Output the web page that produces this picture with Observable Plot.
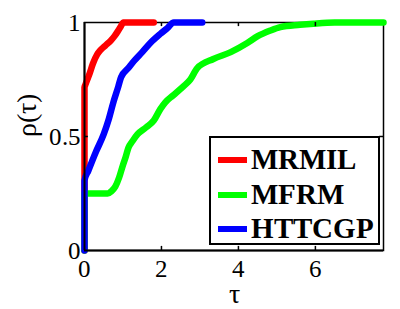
<!DOCTYPE html>
<html>
<head>
<meta charset="utf-8">
<script src="https://cdn.jsdelivr.net/npm/d3@7"></script>
<script src="https://cdn.jsdelivr.net/npm/@observablehq/plot@0.6"></script>
<style>
@font-face { font-family: "ChartSerif"; src: local("Liberation Serif"), local("LiberationSerif"), local("Times New Roman"); font-weight: normal; }
@font-face { font-family: "ChartSerif"; src: local("Liberation Serif Bold"), local("LiberationSerif-Bold"), local("Times New Roman Bold"); font-weight: bold; }
</style>
</head>
<body style="margin:0;padding:0;background:#fff">
<div id="wrap" style="position:relative;width:400px;height:309px"></div>
<script>
// Performance profiles: tau and rho values per method
const seriesNames = ["MRMIL", "MFRM", "HTTCGP"];
const seriesColors = ["#ff0000", "#00ff00", "#0000ff"];

const mrmilTau = [0, 0, 0.03, 0.12, 0.22, 0.33, 0.42, 0.55, 0.68, 0.78, 0.86, 0.95, 1.01, 1.3, 1.5, 1.8];
const mrmilRho = [0, 0.715, 0.73, 0.77, 0.82, 0.86, 0.88, 0.9, 0.92, 0.94, 0.96, 0.985, 1.0, 1.0, 1.0, 1.0];

const mfrmTau = [0, 0, 0.6, 0.7, 0.8, 0.9, 0.99, 1.07, 1.14, 1.25, 1.38, 1.6, 1.8, 1.97, 2.1, 2.3, 2.57, 2.75, 2.93, 3.35, 3.8, 4.23, 4.5, 4.83, 5.09, 5.6, 5.95, 6.5, 7.0, 7.77];
const mfrmRho = [0, 0.25, 0.25, 0.26, 0.28, 0.32, 0.37, 0.41, 0.45, 0.48, 0.51, 0.54, 0.57, 0.62, 0.65, 0.68, 0.72, 0.75, 0.8, 0.84, 0.87, 0.91, 0.94, 0.965, 0.98, 0.99, 0.995, 1.0, 1.0, 1.0];

const httcgpTau = [0, 0, 0.1, 0.29, 0.5, 0.62, 0.75, 0.88, 0.95, 1.14, 1.28, 1.5, 1.71, 1.97, 2.15, 2.32, 2.8, 3.06];
const httcgpRho = [0, 0.307, 0.35, 0.43, 0.51, 0.57, 0.65, 0.72, 0.76, 0.8, 0.83, 0.87, 0.91, 0.95, 0.975, 1.0, 1.0, 1.0];

const xTicks = [0, 2, 4, 6];
const yTicks = [0, 0.5, 1];
const yTickLabels = ["0", "0.5", "1"];

const toRows = (taus, rhos) => taus.map((t, i) => ({tau: t, rho: rhos[i]}));
const seriesData = [toRows(mrmilTau, mrmilRho), toRows(mfrmTau, mfrmRho), toRows(httcgpTau, httcgpRho)];

const FONT = "ChartSerif, 'Times New Roman', 'Liberation Serif', serif";

const chart = Plot.plot({
  width: 400,
  height: 309,
  marginLeft: 84,
  marginRight: 17,
  marginTop: 22,
  marginBottom: 59,
  x: {domain: [0, 7.77]},
  y: {domain: [0, 1]},
  style: {fontFamily: FONT, fontSize: "25px", background: "#fff", color: "#000"},
  marks: [
    Plot.frame({stroke: "#000", strokeWidth: 1.5}),
    ...seriesData.map((d, i) => Plot.line(d, {x: "tau", y: "rho", stroke: seriesColors[i], strokeWidth: 6.5, strokeLinejoin: "round", strokeLinecap: "round", curve: "monotone-x"})),
    Plot.ruleX([0], {stroke: "#000", strokeWidth: 2}),
    Plot.ruleY([0], {stroke: "#000", strokeWidth: 2}),
    Plot.ruleX(xTicks.slice(1), {y1: 0, y2: 0.018, stroke: "#000", strokeWidth: 1.5}),
    Plot.ruleX(xTicks.slice(1), {y1: 1, y2: 0.982, stroke: "#000", strokeWidth: 1.5}),
    Plot.ruleY(yTicks.slice(1, 2), {x1: 0, x2: 0.1, stroke: "#000", strokeWidth: 1.5}),
    Plot.ruleY(yTicks.slice(1, 2), {x1: 7.77, x2: 7.67, stroke: "#000", strokeWidth: 1.5}),
    Plot.axisX({ticks: xTicks, tickSize: 0, tickPadding: 9, label: null, fontSize: 25, fontFamily: FONT, tickFormat: d => String(d)}),
    Plot.axisY({ticks: yTicks, tickSize: 0, tickPadding: 4, label: null, fontSize: 25, fontFamily: FONT, tickFormat: (d, i) => yTickLabels[i]}),
    Plot.text(["τ"], {frameAnchor: "bottom", dy: 44, fontSize: 28, fontFamily: FONT, lineAnchor: "middle", text: d => d}),
    Plot.text(["ρ(τ)"], {frameAnchor: "left", dx: -57, rotate: -90, fontSize: 28, fontFamily: FONT, lineAnchor: "middle", text: d => d})
  ]
});

const wrap = document.getElementById("wrap");
wrap.appendChild(chart);
chart.querySelectorAll("text").forEach(t => { t.setAttribute("font-family", FONT); t.style.fontFamily = FONT; });

const legend = document.createElement("div");
Object.assign(legend.style, {
  position: "absolute", left: "209px", top: "136px", width: "167px", height: "105px",
  border: "2px solid #000", background: "#fff",
  fontFamily: FONT, fontWeight: "bold", fontSize: "29px"
});
seriesNames.forEach((name, i) => {
  const item = document.createElement("div");
  Object.assign(item.style, {position: "absolute", left: "0px", top: (5 + i * 34.5) + "px", height: "30px", width: "167px"});
  const sw = document.createElement("div");
  Object.assign(sw.style, {position: "absolute", left: "7px", top: "14px", width: "29px", height: "6px", background: seriesColors[i]});
  const lab = document.createElement("div");
  Object.assign(lab.style, {position: "absolute", left: "40px", top: "-1px", lineHeight: "34px", color: "#000", fontFamily: FONT, whiteSpace: "nowrap"});
  lab.textContent = name;
  item.appendChild(sw);
  item.appendChild(lab);
  legend.appendChild(item);
});
wrap.appendChild(legend);
</script>
</body>
</html>
